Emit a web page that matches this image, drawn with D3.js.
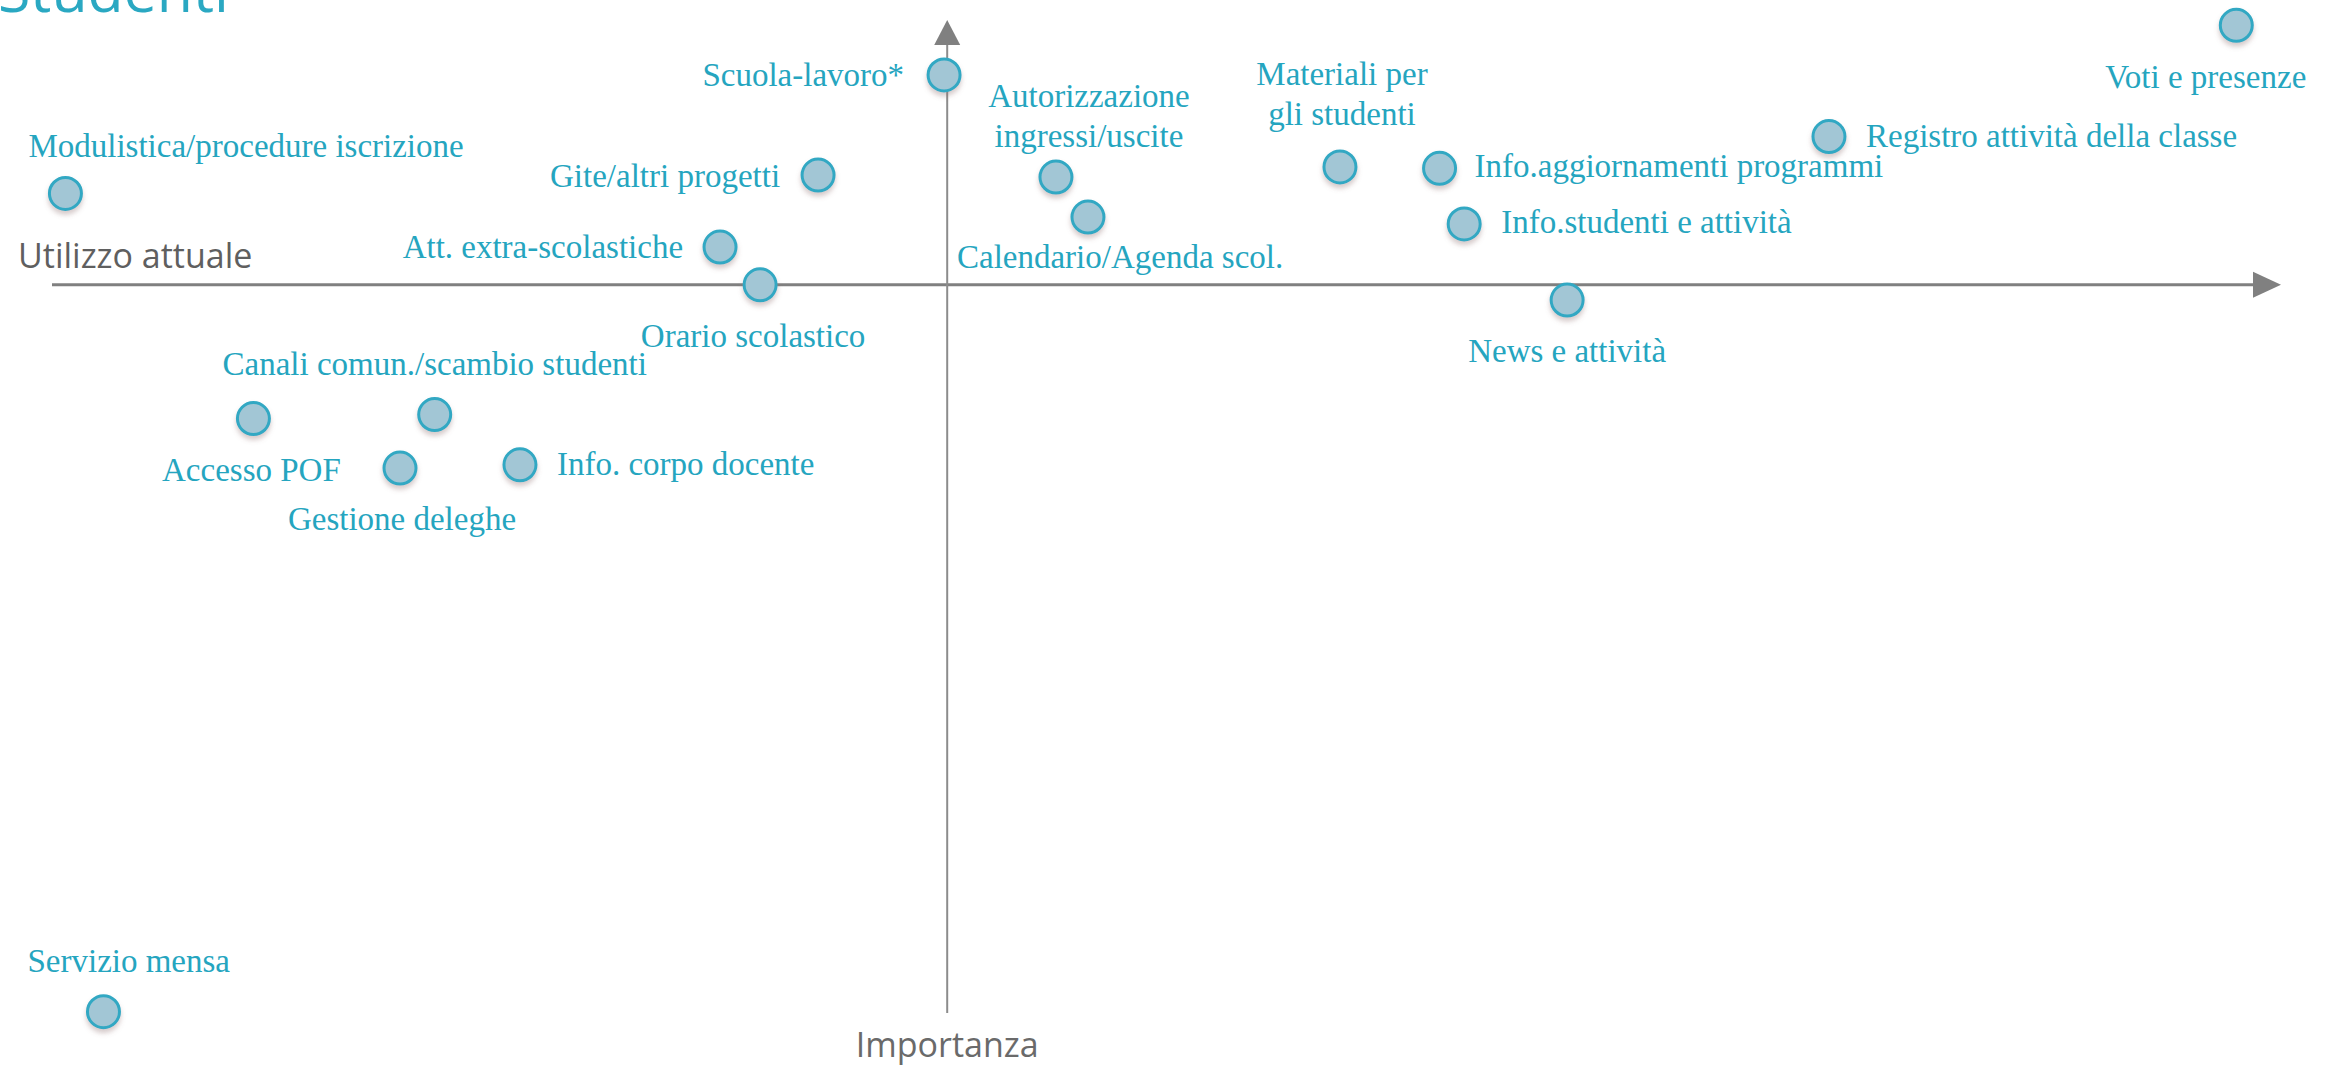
<!DOCTYPE html>
<html>
<head>
<meta charset="utf-8">
<script src="https://cdn.jsdelivr.net/npm/d3@7"></script>
<style>
  html, body { margin: 0; padding: 0; background: #ffffff; overflow: hidden; }
  svg { display: block; }
</style>
</head>
<body>
<svg id="chart" width="2336" height="1068"></svg>
<script>
// ---- Data ----
const categories = [
  "Voti e presenze",
  "Registro attività della classe",
  "Materiali per\ngli studenti",
  "Info.aggiornamenti programmi",
  "Info.studenti e attività",
  "News e attività",
  "Scuola-lavoro*",
  "Autorizzazione\ningressi/uscite",
  "Calendario/Agenda scol.",
  "Gite/altri progetti",
  "Att. extra-scolastiche",
  "Orario scolastico",
  "Modulistica/procedure iscrizione",
  "Canali comun./scambio studenti",
  "Accesso POF",
  "Gestione deleghe",
  "Info. corpo docente",
  "Servizio mensa"
];
// horizontal position (Utilizzo attuale)
const utilizzo = [5.76, 3.94, 1.755, 2.20, 2.31, 2.77, -0.014, 0.486, 0.629, -0.577, -1.015, -0.836, -3.94, -2.29, -3.10, -2.445, -1.909, -3.77];
// vertical position (Importanza)
const importanza = [1.96, 1.12, 0.89, 0.88, 0.46, -0.115, 1.585, 0.814, 0.512, 0.829, 0.285, 0.0, 0.69, -0.98, -1.01, -1.384, -1.36, -5.49];

const titleText = "Studenti";
const xAxisLabel = "Utilizzo attuale";
const yAxisLabel = "Importanza";

// ---- Layout (label placement relative to each point: dx, dy, anchor) ----
const labelLayout = [
  [70, 63, "end"],
  [37, 10, "start"],
  [2, -82, "middle"],
  [35, 9, "start"],
  [37, 9, "start"],
  [0, 62, "middle"],
  [-40, 11, "end"],
  [33, -70, "middle"],
  [-131, 51, "start"],
  [-38, 12, "end"],
  [-37, 11, "end"],
  [-7, 62, "middle"],
  [-37, -36, "start"],
  [0, -40, "middle"],
  [-2, 62, "middle"],
  [2, 62, "middle"],
  [37, 10, "start"],
  [-76, -40, "start"]
];

const W = 2336, H = 1068;
const teal = "#25a5bf";
const axisGrey = "#808080";

const x = d3.scaleLinear().domain([-4, 6]).range([52, 2290]);
const y = d3.scaleLinear().domain([-5.5, 2]).range([1013, 20]);

const svg = d3.select("#chart");

const defs = svg.append("defs");
const f = defs.append("filter").attr("id", "shadow")
  .attr("x", "-50%").attr("y", "-50%").attr("width", "200%").attr("height", "220%");
f.append("feDropShadow").attr("dx", 0).attr("dy", 4).attr("stdDeviation", 2.5)
  .attr("flood-color", "#8a6a6a").attr("flood-opacity", 0.35);

// Title (cut at top)
svg.append("text")
  .attr("x", -2).attr("y", 12)
  .attr("font-family", "'Open Sans', sans-serif")
  .attr("font-size", 59)
  .attr("fill", "#2aa8c2")
  .text(titleText);

// Axes
const x0 = x(0), y0 = y(0);
const hEnd = 2253, hTip = 2281;
svg.append("line")
  .attr("x1", x.range()[0]).attr("x2", hEnd)
  .attr("y1", y0).attr("y2", y0)
  .attr("stroke", axisGrey).attr("stroke-width", 3);
svg.append("path")
  .attr("d", `M${hEnd},${y0 - 13}L${hTip},${y0}L${hEnd},${y0 + 13}Z`)
  .attr("fill", axisGrey);

const vTop = 45, vTip = y.range()[1];
svg.append("line")
  .attr("x1", x0).attr("x2", x0)
  .attr("y1", vTop).attr("y2", y.range()[0])
  .attr("stroke", "#8c8c8c").attr("stroke-width", 2);
svg.append("path")
  .attr("d", `M${x0 - 13},${vTop}L${x0},${vTip}L${x0 + 13},${vTop}Z`)
  .attr("fill", axisGrey);

// Axis labels
svg.append("text")
  .attr("x", 18).attr("y", 268)
  .attr("font-family", "'Open Sans', sans-serif")
  .attr("font-size", 34)
  .attr("fill", "#5f5f5f")
  .text(xAxisLabel);
svg.append("text")
  .attr("x", x0).attr("y", 1057)
  .attr("text-anchor", "middle")
  .attr("font-family", "'Open Sans', sans-serif")
  .attr("font-size", 34)
  .attr("fill", "#6a6a6a")
  .text(yAxisLabel);

// Data
const data = categories.map((c, i) => ({
  name: c, u: utilizzo[i], imp: importanza[i], lay: labelLayout[i]
}));

svg.append("g").selectAll("circle")
  .data(data).join("circle")
  .attr("cx", d => x(d.u))
  .attr("cy", d => y(d.imp))
  .attr("r", 16)
  .attr("fill", "#a2c6d5")
  .attr("stroke", "#31a8c3")
  .attr("stroke-width", 3)
  .attr("filter", "url(#shadow)");

const labels = svg.append("g").selectAll("text")
  .data(data).join("text")
  .attr("x", d => x(d.u) + d.lay[0])
  .attr("y", d => y(d.imp) + d.lay[1])
  .attr("text-anchor", d => d.lay[2])
  .attr("font-family", "'Liberation Serif', 'Times New Roman', serif")
  .attr("font-size", 33)
  .attr("fill", teal);

labels.each(function(d) {
  const lines = d.name.split("\n");
  const t = d3.select(this);
  lines.forEach((ln, k) => {
    t.append("tspan")
      .attr("x", x(d.u) + d.lay[0])
      .attr("dy", k === 0 ? 0 : 40)
      .text(ln);
  });
});
</script>
</body>
</html>
